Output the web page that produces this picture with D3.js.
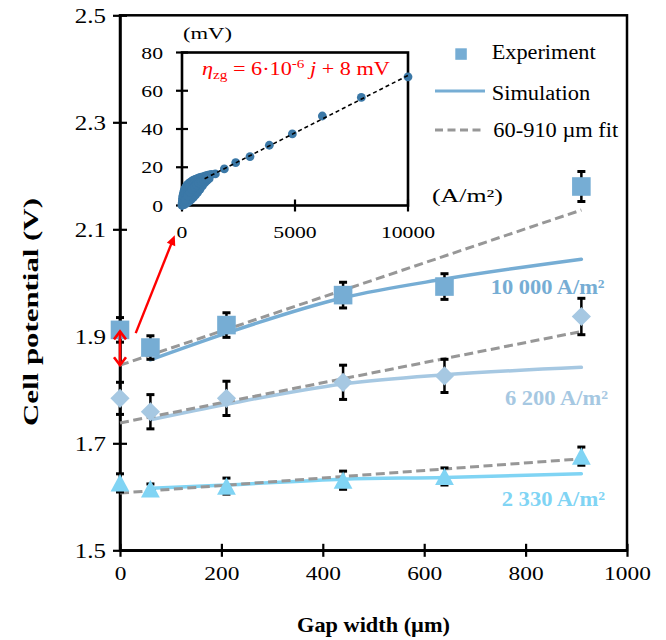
<!DOCTYPE html>
<html><head><meta charset="utf-8">
<script src="https://cdn.jsdelivr.net/npm/d3@7"></script>
<style>
html,body{margin:0;padding:0;background:#fff;}
svg{display:block;font-family:"Liberation Serif","Times New Roman",serif;}
</style></head><body>
<svg id="chart" width="666" height="640"></svg>
<script>
// ---------------- data ----------------
const gapWidths = [0, 60, 210, 440, 640, 910];
const simGaps   = [60, 210, 440, 640, 910];
const fitGaps   = [0, 910];

const exp10000 = [1.912, 1.879, 1.921, 1.977, 1.993, 2.180];
const err10000 = [0.023, 0.022, 0.023, 0.024, 0.024, 0.028];
const sim10000 = [1.856, 1.906, 1.972, 2.007, 2.044];
const fit10000 = [1.846, 2.136];

const exp6200 = [1.784, 1.759, 1.784, 1.814, 1.826, 1.937];
const err6200 = [0.030, 0.032, 0.032, 0.032, 0.031, 0.034];
const sim6200 = [1.744, 1.773, 1.811, 1.828, 1.842];
const fit6200 = [1.738, 1.909];

const exp2330 = [1.626, 1.615, 1.620, 1.631, 1.638, 1.676];
const err2330 = [0.017, 0.009, 0.015, 0.017, 0.016, 0.017];
const sim2330 = [1.616, 1.622, 1.633, 1.636, 1.643];
const fit2330 = [1.607, 1.671];

const xTicks = [0, 200, 400, 600, 800, 1000];
const yTicks = [1.5, 1.7, 1.9, 2.1, 2.3, 2.5];
const seriesLabels = ["10 000 A/m²", "6 200 A/m²", "2 330 A/m²"];
const legendLabels = ["Experiment", "Simulation", "60-910 µm fit"];
const xTitle = "Gap width (µm)";
const yTitle = "Cell potential (V)";

// inset: zero-gap overpotential vs current density (dense low-current cloud + sparse high-current points)
const insetJ   = [0, 5, 10, 20, 30, 40, 50, 60, 80, 100, 120, 150, 180, 220, 260, 300, 350, 400, 450, 500, 560, 620, 680, 750, 820, 900, 1000, 1100, 1200, 1300,
                  100, 200, 300, 400, 500, 600, 700, 800, 900, 1000, 1100, 1200,
                  150, 250, 350, 450, 550, 650, 750, 850, 950, 1050,
                  1475, 1873, 2375, 3009, 3864, 4882, 6209, 7935, 10000];
const insetEta = [0, 0.8, 1.5, 2.8, 3.8, 4.7, 5.4, 6.0, 7.0, 7.8, 8.4, 9.2, 9.8, 10.5, 11.0, 11.5, 12.0, 12.4, 12.8, 13.1, 13.5, 13.8, 14.1, 14.4, 14.7, 15.0, 15.3, 15.7, 16.0, 16.3,
                  0.5, 1.2, 2.0, 3.0, 4.2, 5.5, 7.0, 8.6, 10.2, 11.8, 13.0, 14.0,
                  3.0, 5.0, 6.8, 8.3, 9.6, 10.8, 11.8, 12.7, 13.5, 14.2,
                  16.5, 19.1, 22.4, 25.6, 31.5, 37.4, 46.8, 56.5, 67.3];
const insetFitJ   = [1000, 10000];
const insetFitEta = [14, 68];
const insetXTicks = [0, 5000, 10000];
const insetYTicks = [0, 20, 40, 60, 80];

// annotation arrow (main-chart data coordinates)
const arrowFrom = [31, 1.906];
const arrowTo   = [108, 2.089];

// ---------------- drawing ----------------
const svg = d3.select("#chart");
const C10 = "#76add4", C62 = "#a6c8e2", C23 = "#80d4f4", CFIT = "#979797", CIN = "#3b78a7", RED = "#ff0000";

const x = d3.scaleLinear().domain([0, 1000]).range([120, 627]);
const y = d3.scaleLinear().domain([1.5, 2.5]).range([550.3, 15.3]);
const ix = d3.scaleLinear().domain([0, 10000]).range([182, 408]);
const iy = d3.scaleLinear().domain([0, 80]).range([205.5, 52.5]);

function addText(parent, px, py, o) {
  const g = parent.append("g").attr("transform", `translate(${px},${py})` + (o.rotate ? ` rotate(${o.rotate})` : ""));
  const t = g.append("text").attr("text-anchor", o.anchor || "start")
    .attr("font-size", o.size).attr("font-weight", o.weight || "normal")
    .attr("fill", o.fill || "#000");
  (o.parts || [{ t: o.text }]).forEach(p => {
    const s = t.append("tspan").text(p.t);
    if (p.italic) s.attr("font-style", "italic");
    if (p.size) s.attr("font-size", p.size);
    if (p.dy) s.attr("dy", p.dy);
  });
  if (o.width) {
    const w = t.node().getComputedTextLength();
    t.attr("transform", `scale(${o.width / w},1)`);
  } else if (o.sx) t.attr("transform", `scale(${o.sx},1)`);
  return t;
}

// main frame
svg.append("rect").attr("x", x(0)).attr("y", y(2.5)).attr("width", x(1000) - x(0)).attr("height", y(1.5) - y(2.5))
  .attr("fill", "none").attr("stroke", "#000").attr("stroke-width", 2.5);

// main axes
const gx = svg.append("g").attr("transform", `translate(0,${y(1.5)})`)
  .call(d3.axisBottom(x).tickValues(xTicks).tickSizeOuter(0).tickFormat(d3.format("d")));
gx.select(".domain").attr("stroke", "#000").attr("stroke-width", 2.5);
gx.selectAll(".tick line").attr("stroke", "#000").attr("stroke-width", 2.2).attr("y1", -6.5).attr("y2", 6.5);
gx.selectAll(".tick text").attr("font-family", null).attr("font-size", 19.5).attr("fill", "#000")
  .attr("y", 0).attr("dy", 0).attr("transform", "translate(0,29.7) scale(1.2,1)");
gx.attr("font-family", null).attr("font-size", null);

const gy = svg.append("g").attr("transform", `translate(${x(0)},0)`)
  .call(d3.axisLeft(y).tickValues(yTicks).tickSizeOuter(0).tickFormat(d3.format(".1f")));
gy.select(".domain").attr("stroke", "#000").attr("stroke-width", 2.5);
gy.selectAll(".tick line").attr("stroke", "#000").attr("stroke-width", 2.2).attr("x1", -7).attr("x2", 7);
gy.selectAll(".tick text").attr("font-family", null).attr("font-size", 20).attr("fill", "#000")
  .attr("x", 0).attr("dy", "0.34em").attr("transform", "translate(-14,0) scale(1.25,1)");
gy.attr("font-family", null).attr("font-size", null);

// axis titles
addText(svg, 373.5, 632, { text: xTitle, size: 20, weight: "bold", anchor: "middle", width: 153 });
addText(svg, 38, 312, { text: yTitle, size: 21, weight: "bold", anchor: "middle", rotate: -90, width: 228 });

// ---------------- inset ----------------
const inset = svg.append("g");
inset.append("rect").attr("x", ix(0)).attr("y", iy(80)).attr("width", ix(10000) - ix(0)).attr("height", iy(0) - iy(80))
  .attr("fill", "#fff").attr("stroke", "#000").attr("stroke-width", 2.6);
insetXTicks.forEach(v => {
  inset.append("line").attr("x1", ix(v)).attr("x2", ix(v)).attr("y1", iy(0) - 6).attr("y2", iy(0) + 6)
    .attr("stroke", "#000").attr("stroke-width", 2.2);
  addText(inset, ix(v), 238, { text: d3.format("d")(v), size: 17.5, anchor: "middle", sx: 1.24 });
});
insetYTicks.forEach(v => {
  inset.append("line").attr("x1", ix(0) - 6).attr("x2", ix(0) + 6).attr("y1", iy(v)).attr("y2", iy(v))
    .attr("stroke", "#000").attr("stroke-width", 2.2);
  addText(inset, 163, iy(v) + 6, { text: String(v), size: 17.5, anchor: "end", sx: 1.24 });
});
inset.selectAll("circle.ipt").data(insetJ.map((j, i) => [j, insetEta[i]])).join("circle")
  .attr("class", "ipt").attr("cx", d => ix(d[0])).attr("cy", d => iy(d[1])).attr("r", 4.4).attr("fill", CIN);
inset.append("path").attr("d", d3.line()(insetFitJ.map((j, i) => [ix(j), iy(insetFitEta[i])])))
  .attr("stroke", "#000").attr("stroke-width", 1.6).attr("stroke-dasharray", "4,3").attr("fill", "none");
addText(inset, 183, 39, { text: "(mV)", size: 17, width: 49 });
addText(inset, 432, 202, { text: "(A/m²)", size: 18, width: 71 });
addText(inset, 202, 75, {
  size: 19, fill: RED, width: 188, parts: [
    { t: "η", italic: true }, { t: "zg", size: 13, dy: 4 }, { t: " = 6·10", dy: -4 },
    { t: "-6", size: 13, dy: -7 }, { t: " ", dy: 7 }, { t: "j", italic: true }, { t: " + 8 mV" }]
});

// ---------------- legend ----------------
const lg = svg.append("g");
lg.append("rect").attr("x", 455.3).attr("y", 48.3).attr("width", 11.5).attr("height", 11.5).attr("fill", C10);
addText(lg, 491.7, 59, { text: legendLabels[0], size: 20, width: 104 });
lg.append("line").attr("x1", 435).attr("x2", 485).attr("y1", 91).attr("y2", 91).attr("stroke", C10).attr("stroke-width", 3);
addText(lg, 491.7, 99.5, { text: legendLabels[1], size: 20, width: 98.5 });
lg.append("line").attr("x1", 435).attr("x2", 483).attr("y1", 130).attr("y2", 130).attr("stroke", CFIT)
  .attr("stroke-width", 3).attr("stroke-dasharray", "8,4.5");
addText(lg, 493.3, 136.5, { text: legendLabels[2], size: 20, width: 125 });

// ---------------- series ----------------
const series = [
  { exp: exp10000, err: err10000, sim: sim10000, fit: fit10000, color: C10, shape: "square", label: seriesLabels[0], lx: 490.7, ly: 294, lw: 114 },
  { exp: exp6200, err: err6200, sim: sim6200, fit: fit6200, color: C62, shape: "diamond", label: seriesLabels[1], lx: 505, ly: 404.5, lw: 103 },
  { exp: exp2330, err: err2330, sim: sim2330, fit: fit2330, color: C23, shape: "triangle", label: seriesLabels[2], lx: 501.7, ly: 506, lw: 103.3 }
];
const shapes = {
  square: "M-9.3,-9.3H9.3V9.3H-9.3Z",
  diamond: "M0,-9.6L9.6,0L0,9.6L-9.6,0Z",
  triangle: "M0,-8.8L9.4,8.6H-9.4Z"
};
const main = svg.append("g");
const smooth = d3.line().curve(d3.curveMonotoneX);

series.forEach(s => {
  main.append("path").attr("d", smooth(simGaps.map((g, i) => [x(g), y(s.sim[i])])))
    .attr("fill", "none").attr("stroke", s.color).attr("stroke-width", 3.5).attr("stroke-linecap", "round");
});
series.forEach(s => {
  main.append("path").attr("d", d3.line()(fitGaps.map((g, i) => [x(g), y(s.fit[i])])))
    .attr("fill", "none").attr("stroke", CFIT).attr("stroke-width", 3).attr("stroke-dasharray", "9,4.5");
});
series.forEach(s => {
  gapWidths.forEach((g, i) => {
    const v = s.exp[i], e = s.err[i];
    main.append("line").attr("x1", x(g)).attr("x2", x(g)).attr("y1", y(v - e)).attr("y2", y(v + e))
      .attr("stroke", "#000").attr("stroke-width", 2.5);
    [v - e, v + e].forEach(b => main.append("line").attr("x1", x(g) - 4).attr("x2", x(g) + 4)
      .attr("y1", y(b)).attr("y2", y(b)).attr("stroke", "#000").attr("stroke-width", 3));
  });
});
series.forEach(s => {
  main.selectAll(null).data(gapWidths.map((g, i) => [g, s.exp[i]])).join("path")
    .attr("d", shapes[s.shape]).attr("transform", d => `translate(${x(d[0])},${y(d[1])})`).attr("fill", s.color);
  addText(main, s.lx, s.ly, { text: s.label, size: 21, weight: "bold", fill: s.color, width: s.lw });
});

// ---------------- red arrows ----------------
function head(px, py, ang, len, half, filled) {
  const ca = Math.cos(ang), sa = Math.sin(ang);
  const bx = px - len * ca, by = py - len * sa;
  const p1 = [bx - half * sa, by + half * ca], p2 = [bx + half * sa, by - half * ca];
  if (filled) return `M${px},${py}L${p1[0]},${p1[1]}L${p2[0]},${p2[1]}Z`;
  return `M${p1[0]},${p1[1]}L${px},${py}L${p2[0]},${p2[1]}`;
}
const topY = y(exp10000[0]) + 1.5, botY = y(fit10000[0]);
main.append("line").attr("x1", x(0)).attr("x2", x(0)).attr("y1", topY).attr("y2", botY).attr("stroke", RED).attr("stroke-width", 2.6);
main.append("path").attr("d", head(x(0), topY, -Math.PI / 2, 8, 6, false)).attr("fill", "none").attr("stroke", RED).attr("stroke-width", 2.6);
main.append("path").attr("d", head(x(0), botY, Math.PI / 2, 8, 6, false)).attr("fill", "none").attr("stroke", RED).attr("stroke-width", 2.6);

const ax0 = x(arrowFrom[0]), ay0 = y(arrowFrom[1]), ax1 = x(arrowTo[0]), ay1 = y(arrowTo[1]);
const ang = Math.atan2(ay1 - ay0, ax1 - ax0);
main.append("line").attr("x1", ax0).attr("y1", ay0).attr("x2", ax1 - 8 * Math.cos(ang)).attr("y2", ay1 - 8 * Math.sin(ang))
  .attr("stroke", RED).attr("stroke-width", 2.4);
main.append("path").attr("d", head(ax1, ay1, ang, 10, 4.5, true)).attr("fill", RED);
</script>
</body></html>
